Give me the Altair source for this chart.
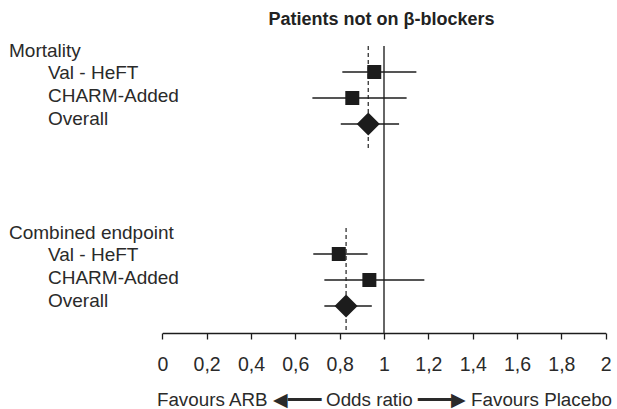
import altair as alt
import pandas as pd

# ---------------- data ----------------
groups = ["Mortality", "Combined endpoint"]
studies = ["Val - HeFT", "CHARM-Added", "Overall"]

mort_or = [0.956, 0.857, 0.929]
mort_lo = [0.812, 0.677, 0.805]
mort_hi = [1.146, 1.102, 1.068]

comb_or = [0.796, 0.934, 0.829]
comb_lo = [0.681, 0.731, 0.731]
comb_hi = [0.926, 1.182, 0.945]

tick_values = [0, 0.2, 0.4, 0.6, 0.8, 1, 1.2, 1.4, 1.6, 1.8, 2]
null_value = 1
chart_title = "Patients not on β-blockers"
axis_title = "Favours ARB ◀━━━ Odds ratio ━━━▶ Favours Placebo"

# ---------------- layout ----------------
FONT = "Liberation Sans"
INK = "#1c1c1c"
TXT = "#2a2a2a"
W = 617
PAD_TOP = 40
PLOT_H = 293
PAD_BOTTOM = 76
ROW_PX = 26
GROUP_STEP = 7
Y_TOP = -6 / ROW_PX
Y_BOT = (PLOT_H - 6) / ROW_PX

est_rows, lab_rows, pool_rows = [], [], []
for gi, (g, ors, los, his) in enumerate(
    [(groups[0], mort_or, mort_lo, mort_hi), (groups[1], comb_or, comb_lo, comb_hi)]
):
    head = gi * GROUP_STEP
    mid = head + 2
    lab_rows.append({"label": g, "row": head, "level": "header",
                     "lrow": mid + (head - mid) * 0.87 - 2 / ROW_PX})
    for si, s in enumerate(studies):
        r = head + 1 + si
        kind = "overall" if s == "Overall" else "study"
        est_rows.append({"group": g, "study": s, "row": r, "or": ors[si],
                         "lo": los[si], "hi": his[si], "kind": kind})
        lab_rows.append({"label": s, "row": r, "level": "study",
                         "lrow": mid + (r - mid) * 0.87 - 2 / ROW_PX})
        if kind == "overall":
            pool_rows.append({"x": ors[si], "y": head, "y2": head + 4})

est = pd.DataFrame(est_rows)
labs = pd.DataFrame(lab_rows)
pool = pd.DataFrame(pool_rows)
ref = pd.DataFrame([{"x": null_value, "y": 0, "y2": Y_BOT}])

xs = alt.Scale(domain=[0, 2], range=[162.3, 605.7], nice=False, zero=False)
ys = alt.Scale(domain=[Y_TOP, Y_BOT], reverse=True, nice=False, zero=False)

xaxis = alt.Axis(
    values=tick_values,
    labelExpr="replace(format(datum.value, '.1~f'), '.', ',')",
    grid=False,
    tickSize=6,
    tickWidth=1.3,
    tickColor=INK,
    domainColor=INK,
    domainWidth=1.3,
    labelFont=FONT,
    labelFontSize=19.5,
    labelColor=TXT,
    labelPadding=16,
    labelFlush=False,
    labelOverlap=False,
    title=axis_title,
    titleFont=FONT,
    titleFontSize=18.8,
    titleFontWeight="normal",
    titleColor=TXT,
    titlePadding=17,
)


def X(field):
    return alt.X(field, type="quantitative", scale=xs, axis=xaxis)


def Y(field):
    return alt.Y(field, type="quantitative", scale=ys, axis=None)


ref_rule = alt.Chart(ref).mark_rule(color="#333", strokeWidth=1.5).encode(
    x=X("x"), y=Y("y"), y2="y2"
)
pool_rule = alt.Chart(pool).mark_rule(color="#333", strokeWidth=1.3, strokeDash=[4, 3]).encode(
    x=X("x"), y=Y("y"), y2="y2"
)
ci = alt.Chart(est).mark_rule(color=INK, strokeWidth=1.3).encode(
    x=X("lo"), x2="hi", y=Y("row")
)
squares = alt.Chart(est).transform_filter("datum.kind == 'study'").mark_point(
    shape="square", filled=True, size=196, opacity=1, color=INK
).encode(x=X("or"), y=Y("row"))
diamonds = alt.Chart(est).transform_filter("datum.kind == 'overall'").mark_point(
    shape="diamond", filled=True, size=530, opacity=1, color=INK
).encode(x=X("or"), y=Y("row"))

head_text = alt.Chart(labs).transform_filter("datum.level == 'header'").mark_text(
    align="left", baseline="middle", font=FONT, fontSize=19, color=TXT
).encode(x=alt.value(9), y=Y("lrow"), text="label:N")
study_text = alt.Chart(labs).transform_filter("datum.level == 'study'").mark_text(
    align="left", baseline="middle", font=FONT, fontSize=19, color=TXT
).encode(x=alt.value(48), y=Y("lrow"), text="label:N")

chart = (
    alt.layer(ref_rule, pool_rule, ci, squares, diamonds, head_text, study_text)
    .properties(
        width=W,
        height=PLOT_H,
        background="white",
        autosize=alt.AutoSizeParams(type="none"),
        padding={"top": PAD_TOP, "left": 0, "right": 0, "bottom": PAD_BOTTOM},
        title=alt.TitleParams(
            chart_title, font=FONT, fontSize=18, fontWeight="bold", color="#222",
            anchor="middle", frame="group", dx=73, offset=11,
        ),
    )
    .configure_view(strokeWidth=0, stroke="transparent")
)

chart.save("out.html", embed_options={"renderer": "svg", "actions": False})
